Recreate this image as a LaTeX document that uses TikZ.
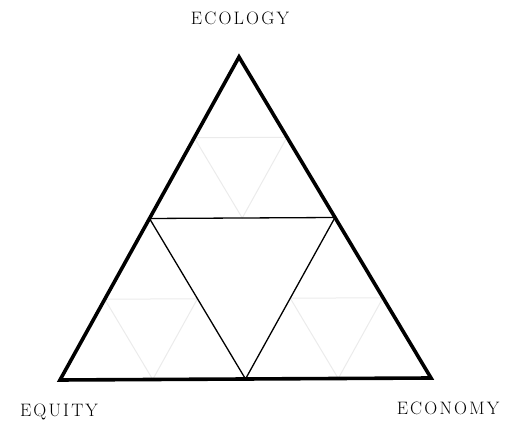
\documentclass[tikz,border=0pt]{standalone}
\usepackage{fontspec}
\newfontfamily\labelfont[LetterSpace=12]{Latin Modern Roman}
\usetikzlibrary{calc}

\begin{document}
\begin{tikzpicture}[x=1pt, y=1pt, font=\labelfont\fontsize{18}{20}\selectfont,
  outer/.style={line width=3.6pt, line join=miter},
  inner/.style={line width=1.3pt},
  faint/.style={line width=1pt, black!8}]
\useasboundingbox (0,0) rectangle (512,428);
% corners of the big triangle
\coordinate (top) at (239,371);
\coordinate (left) at (60,48);
\coordinate (right) at (431,50);
% midpoints
\coordinate (ml) at ($(top)!0.5!(left)$);
\coordinate (mr) at ($(top)!0.5!(right)$);
\coordinate (mb) at ($(left)!0.5!(right)$);
% faint inner triangles
\draw[faint] ($(top)!0.5!(ml)$) -- ($(top)!0.5!(mr)$) -- ($(ml)!0.5!(mr)$) -- cycle;
\draw[faint] ($(ml)!0.5!(left)$) -- ($(ml)!0.5!(mb)$) -- ($(left)!0.5!(mb)$) -- cycle;
\draw[faint] ($(mr)!0.5!(mb)$) -- ($(mr)!0.5!(right)$) -- ($(mb)!0.5!(right)$) -- cycle;
\draw[inner] (ml) -- (mr) -- (mb) -- cycle;
\draw[outer] (top) -- (left) -- (right) -- cycle;
\node (ecology) at (240,410) {ECOLOGY};
\node (equity) at (59,16) {EQUITY};
\node (economy) at (448,20) {ECONOMY};
\end{tikzpicture}
\end{document}
